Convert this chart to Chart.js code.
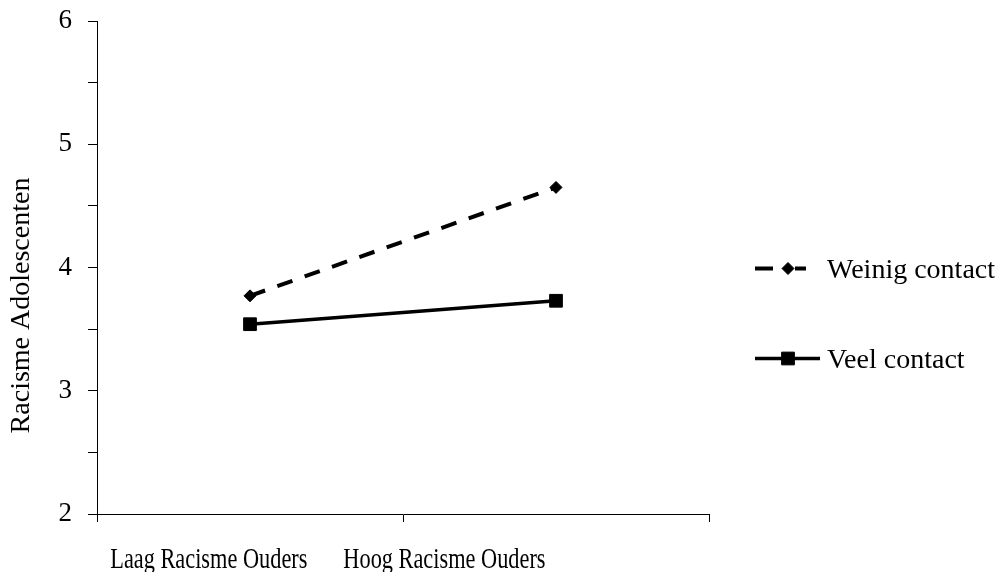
<!DOCTYPE html>
<html>
<head>
<meta charset="utf-8">
<title>Racisme Adolescenten</title>
<script src="https://cdn.jsdelivr.net/npm/chart.js@4.4.1/dist/chart.umd.min.js"></script>
<style>
  html, body { margin: 0; padding: 0; background: #fff; }
  #wrap { width: 1006px; height: 572px; }
</style>
</head>
<body>
<div id="wrap"><canvas id="chart" width="1006" height="572"></canvas></div>
<script>
// Data
const categories = ['Laag Racisme Ouders', 'Hoog Racisme Ouders'];
const seriesNames = ['Weinig contact', 'Veel contact'];
const weinigContact = [3.77, 4.65];
const veelContact = [3.54, 3.73];
const yTicks = [2, 3, 4, 5, 6];
const yTitle = 'Racisme Adolescenten';

const serif = "'Liberation Serif', 'Times New Roman', serif";

// Labels, y title and legend drawn by hand (original uses narrow axis text)
const extrasPlugin = {
    id: 'extras',
    afterDraw(chart) {
        const ctx = chart.ctx;
        const area = chart.chartArea;
        const xScale = chart.scales.x;

        // category labels, squeezed horizontally
        ctx.save();
        ctx.fillStyle = '#000';
        ctx.font = '29px ' + serif;
        ctx.textAlign = 'center';
        ctx.textBaseline = 'alphabetic';
        ctx.translate(71, 0);
        ctx.scale(0.77, 1);
        categories.forEach((c, i) => {
            ctx.fillText(c, xScale.getPixelForTick(i) - 71, area.bottom + 54);
        });
        ctx.restore();

        // y axis title
        ctx.save();
        ctx.fillStyle = '#000';
        ctx.font = '28px ' + serif;
        ctx.textAlign = 'center';
        ctx.textBaseline = 'middle';
        ctx.translate(22, (area.top + area.bottom) / 2 + 38);
        ctx.rotate(-Math.PI / 2);
        ctx.fillText(yTitle, 0, 0);
        ctx.restore();

        // legend
        const x0 = area.right + 46;
        chart.data.datasets.forEach((ds, i) => {
            const y = (area.top + area.bottom) / 2 + 1 + i * 90;
            const len = ds.borderDash ? 51 : 65;
            ctx.save();
            ctx.strokeStyle = ds.borderColor;
            ctx.fillStyle = ds.borderColor;
            ctx.lineWidth = ds.borderWidth;
            ctx.setLineDash(ds.borderDash ? [18, 22] : []);
            ctx.beginPath();
            ctx.moveTo(x0, y);
            ctx.lineTo(x0 + len, y);
            ctx.stroke();
            ctx.setLineDash([]);
            ctx.lineWidth = 1;
            Chart.helpers.drawPoint(ctx, {
                pointStyle: ds.pointStyle,
                radius: ds.pointRadius,
                rotation: 0,
                borderWidth: 1
            }, x0 + 33, y);
            ctx.font = '28px ' + serif;
            ctx.textAlign = 'left';
            ctx.textBaseline = 'alphabetic';
            ctx.fillText(ds.label, x0 + 72, y + 9.5);
            ctx.restore();
        });
    }
};

const ctx = document.getElementById('chart').getContext('2d');

new Chart(ctx, {
    type: 'line',
    data: {
        labels: categories,
        datasets: [{
            label: seriesNames[0],
            data: weinigContact,
            borderColor: '#000',
            backgroundColor: '#000',
            borderWidth: 4,
            borderDash: [16, 13],
            pointStyle: 'rectRot',
            pointRadius: 6,
            pointBorderWidth: 1,
            pointBackgroundColor: '#000',
            pointBorderColor: '#000',
            tension: 0
        }, {
            label: seriesNames[1],
            data: veelContact,
            borderColor: '#000',
            backgroundColor: '#000',
            borderWidth: 3.5,
            pointStyle: 'rect',
            pointRadius: 9,
            pointBorderWidth: 1,
            pointBackgroundColor: '#000',
            pointBorderColor: '#000',
            tension: 0
        }]
    },
    options: {
        responsive: false,
        animation: false,
        layout: {
            padding: { top: 21, right: 297, bottom: 0, left: 0 }
        },
        plugins: {
            legend: { display: false },
            tooltip: { enabled: false }
        },
        scales: {
            x: {
                type: 'category',
                offset: true,
                border: { color: '#000', width: 1 },
                grid: {
                    offset: true,
                    drawOnChartArea: false,
                    drawTicks: true,
                    tickLength: 8,
                    color: '#000'
                },
                ticks: { display: false },
                afterFit: (scale) => {
                    scale.height = 58;
                    scale.paddingLeft = 0;
                    scale.paddingRight = 0;
                }
            },
            y: {
                min: yTicks[0],
                max: yTicks[yTicks.length - 1],
                border: { color: '#000', width: 1 },
                grid: {
                    drawOnChartArea: false,
                    drawTicks: true,
                    tickLength: 9,
                    color: '#000'
                },
                ticks: {
                    stepSize: 0.5,
                    autoSkip: false,
                    color: '#000',
                    padding: 16,
                    font: { family: serif, size: 27 },
                    callback: (v) => yTicks.includes(v) ? v : ''
                },
                afterFit: (scale) => {
                    scale.width = 97;
                    scale.paddingTop = 0;
                    scale.paddingBottom = 0;
                }
            }
        }
    },
    plugins: [extrasPlugin]
});
</script>
</body>
</html>
